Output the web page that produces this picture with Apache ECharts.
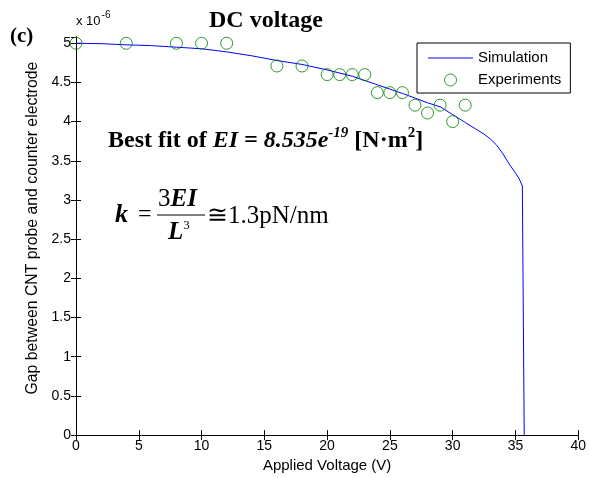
<!DOCTYPE html>
<html><head><meta charset="utf-8">
<script src="https://cdn.jsdelivr.net/npm/echarts@6/dist/echarts.min.js"></script>
<style>html,body{margin:0;padding:0;background:#fff}#c{width:589px;height:478px}</style>
</head><body><div id="c"></div>
<script>
// Data (gap values in units of 1e-6 m)
const simVoltage = [0, 2, 4, 6, 8, 10, 12, 14, 16, 18, 20, 22, 24, 26, 28, 29, 30, 31, 32, 32.5, 33, 33.5, 34, 34.5, 35, 35.3, 35.55, 35.7];
const simGap     = [5.0, 4.995, 4.98, 4.97, 4.95, 4.93, 4.89, 4.84, 4.78, 4.73, 4.66, 4.58, 4.47, 4.36, 4.24, 4.19, 4.09, 3.99, 3.89, 3.84, 3.78, 3.70, 3.59, 3.46, 3.345, 3.27, 3.18, 0];
const expVoltage = [0, 4, 8, 10, 12, 16, 18, 20, 21, 22, 23, 24, 25, 26, 27, 28, 29, 30, 31];
const expGap     = [5, 5, 5, 5, 5, 4.71, 4.71, 4.6, 4.6, 4.6, 4.6, 4.37, 4.37, 4.37, 4.21, 4.11, 4.21, 4.0, 4.21];
const xTicks = [0, 5, 10, 15, 20, 25, 30, 35, 40];
const yTicks = [0, 0.5, 1, 1.5, 2, 2.5, 3, 3.5, 4, 4.5, 5];
const seriesNames = ['Simulation', 'Experiments'];

const SANS = 'Liberation Sans, Arial, sans-serif';
const SERIF = 'Liberation Serif, Times New Roman, serif';
const chart = echarts.init(document.getElementById('c'));
const axisCommon = {
  axisLine: {show: true, lineStyle: {color: '#000', width: 1}},
  axisTick: {show: true, inside: true, length: 5, lineStyle: {color: '#000'}},
  splitLine: {show: false}
};
const yFmt = v => yTicks.indexOf(+v.toFixed(2)) >= 0 ? String(+v.toFixed(2)) : '';
chart.setOption({
  animation: false,
  backgroundColor: '#fff',
  grid: {left: 76, right: 7, top: 37, bottom: 42, containLabel: false},
  xAxis: [
    Object.assign({type: 'value', min: 0, max: 40, interval: 5, position: 'bottom',
      name: 'Applied Voltage (V)', nameLocation: 'middle', nameGap: 22,
      nameTextStyle: {fontFamily: SANS, fontSize: 15, color: '#000'},
      axisLabel: {fontFamily: SANS, fontSize: 14, color: '#000', margin: 4,
        formatter: v => xTicks.indexOf(v) >= 0 ? String(v) : ''}}, axisCommon),
    Object.assign({type: 'value', min: 0, max: 40, interval: 5, position: 'top',
      axisLabel: {show: false}}, axisCommon)
  ],
  yAxis: [
    Object.assign({type: 'value', min: 0, max: 5.08, interval: 0.5, position: 'left',
      name: 'Gap between CNT probe and counter electrode', nameLocation: 'middle', nameGap: 34,
      nameTextStyle: {fontFamily: SANS, fontSize: 15.8, color: '#000', padding: [0, 0, 0, 16]},
      axisLabel: {fontFamily: SANS, fontSize: 14, color: '#000', margin: 5, showMaxLabel: false, formatter: yFmt}}, axisCommon),
    Object.assign({type: 'value', min: 0, max: 5.08, interval: 0.5, position: 'right',
      axisLabel: {show: false}}, axisCommon)
  ],
  legend: {
    data: [
      {name: seriesNames[0], icon: 'path://M0,0H45V1H0Z'},
      {name: seriesNames[1], icon: 'circle', itemStyle: {color: 'rgba(255,255,255,0)', borderColor: '#008000', borderWidth: 1}}
    ],
    orient: 'vertical', left: 417, top: 43,
    backgroundColor: '#fff', borderColor: '#000', borderWidth: 1, borderRadius: 0,
    padding: [7, 9, 5, 11], itemWidth: 45, itemHeight: 12, itemGap: 6,
    textStyle: {fontFamily: SANS, fontSize: 15, lineHeight: 16, color: '#000'}
  },
  series: [
    {name: seriesNames[0], type: 'line', symbol: 'none', data: simVoltage.map((v, i) => [v, simGap[i]]),
     lineStyle: {color: '#0000ff', width: 1}, itemStyle: {color: '#0000ff'}, z: 2},
    {name: seriesNames[1], type: 'scatter', symbol: 'circle', symbolSize: 12,
     data: expVoltage.map((v, i) => [v, expGap[i]]),
     itemStyle: {color: 'rgba(255,255,255,0)', borderColor: '#008000', borderWidth: 1}, z: 3}
  ],
  graphic: [
    {type: 'text', left: 10, top: 26, style: {text: '(c)', font: 'bold 21px ' + SERIF, fill: '#000'}},
    {type: 'text', left: 76, top: 10, style: {
      text: '{a|x 10}{s|-6}', rich: {a: {fontFamily: SANS, fontSize: 13, fill: '#000', verticalAlign: 'bottom', lineHeight: 18},
        s: {fontFamily: SANS, fontSize: 10, fill: '#000', verticalAlign: 'top', lineHeight: 18, padding: [0, 0, 7, 1]}}}},
    {type: 'text', left: 209, top: 9, style: {text: 'DC voltage', font: 'bold 24px ' + SERIF, fill: '#000'}},
    {type: 'text', left: 108, top: 126, style: {
      text: '{b|Best fit of }{i|EI = 8.535e}{is|-19}{b| [N·m}{bs|2}{b|]}',
      rich: {
        b: {font: 'bold 24px ' + SERIF, fill: '#000', lineHeight: 27, verticalAlign: 'bottom'},
        i: {font: 'italic bold 24px ' + SERIF, fill: '#000', lineHeight: 27, verticalAlign: 'bottom'},
        is: {font: 'italic bold 15px ' + SERIF, fill: '#000', lineHeight: 27, verticalAlign: 'top', padding: [0, 0, 11, 0]},
        bs: {font: 'bold 15px ' + SERIF, fill: '#000', lineHeight: 27, verticalAlign: 'top', padding: [0, 0, 11, 0]}
      }}},
    {type: 'text', left: 115, top: 202, style: {text: 'k', font: 'italic bold 26px ' + SERIF, fill: '#000'}},
    {type: 'text', left: 138, top: 203, style: {text: '=', font: '24px ' + SERIF, fill: '#000'}},
    {type: 'text', left: 158, top: 187, style: {text: '{r|3}{i|EI}', rich: {
      r: {font: '25px ' + SERIF, fill: '#000'}, i: {font: 'italic bold 25px ' + SERIF, fill: '#000'}}}},
    {type: 'line', shape: {x1: 157, y1: 215, x2: 205, y2: 215}, style: {stroke: '#000', lineWidth: 1}},
    {type: 'text', left: 168, top: 219, style: {text: '{i|L}{s|3}', rich: {
      i: {font: 'italic bold 25px ' + SERIF, fill: '#000', verticalAlign: 'bottom', lineHeight: 26},
      s: {font: '13px ' + SERIF, fill: '#000', verticalAlign: 'top', lineHeight: 26, padding: [0, 0, 11, 0]}}}},
    {type: 'text', left: 207, top: 204, style: {text: '≅1.3pN/nm', font: '25px ' + SERIF, fill: '#000'}}
  ]
});
</script></body></html>
